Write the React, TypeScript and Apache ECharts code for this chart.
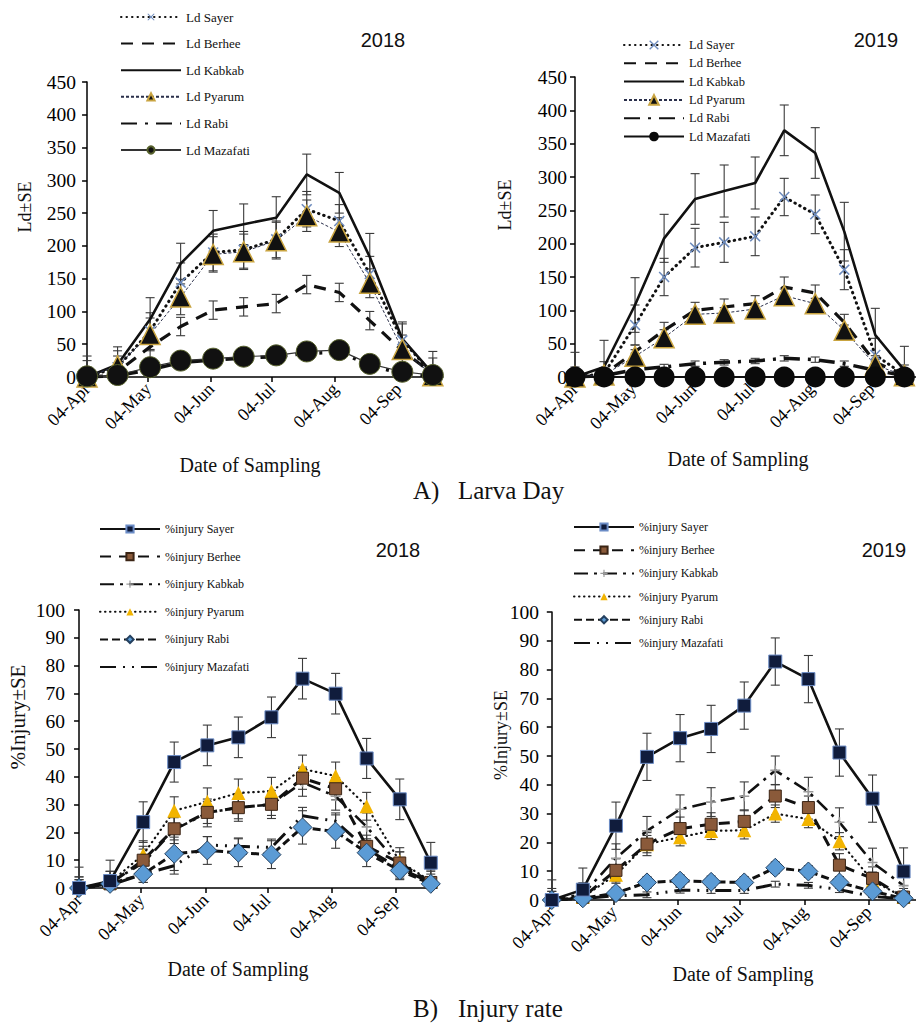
import React, { useEffect, useRef } from "react";
import * as echarts from "echarts";

// ---------- data ----------
const MONTHS = ["Jan", "Feb", "Mar", "Apr", "May", "Jun", "Jul", "Aug", "Sep", "Oct", "Nov", "Dec"];
const samplingDates = ["04-Apr", "19-Apr", "05-May", "20-May", "05-Jun", "20-Jun", "06-Jul", "21-Jul", "06-Aug", "21-Aug", "06-Sep", "21-Sep"];
const axisTickLabels = ["04-Apr", "04-May", "04-Jun", "04-Jul", "04-Aug", "04-Sep"];
const cultivars = ["Sayer", "Berhee", "Kabkab", "Pyarum", "Rabi", "Mazafati"];

// Larva day 2018
const ld2018Sayer = [0, 15, 70, 144, 190, 194, 210, 256, 238, 157, 56, 4];
const ld2018Berhee = [0, 8, 46, 77, 102, 107, 112, 141, 129, 86, 40, 5];
const ld2018Kabkab = [0, 19, 88, 173, 223, 233, 243, 309, 281, 183, 58, 5];
const ld2018Pyarum = [0, 17, 65, 122, 187, 191, 208, 246, 221, 143, 42, 2];
const ld2018Rabi = [0, 2, 11, 22, 26, 29, 31, 36, 38, 18, 5, 1];
const ld2018Mazafati = [1, 3, 15, 25, 28, 31, 33, 39, 41, 20, 8, 3];
const ld2018SayerSE = [25, 25, 28, 30, 28, 28, 28, 27, 25, 27, 25, 25];
const ld2018BerheeSE = [10, 12, 18, 14, 14, 14, 14, 14, 14, 14, 10, 8];
const ld2018KabkabSE = [32, 27, 33, 31, 31, 31, 32, 31, 31, 36, 26, 34];
const ld2018PyarumSE = [15, 15, 25, 27, 27, 27, 28, 24, 22, 22, 22, 15];
const ld2018RabiSE = [2, 3, 4, 5, 5, 5, 5, 5, 5, 5, 3, 2];
const ld2018MazafatiSE = [2, 3, 4, 5, 5, 5, 5, 5, 5, 5, 3, 2];

// Larva day 2019
const ld2019Sayer = [0, 5, 78, 150, 194, 202, 211, 270, 244, 161, 33, 3];
const ld2019Berhee = [0, 4, 38, 70, 100, 105, 110, 135, 126, 82, 22, 3];
const ld2019Kabkab = [0, 15, 108, 208, 267, 279, 291, 370, 336, 218, 63, 10];
const ld2019Pyarum = [0, 3, 31, 59, 94, 96, 102, 122, 110, 70, 18, 2];
const ld2019Rabi = [0, 2, 11, 15, 20, 22, 24, 28, 26, 20, 10, 2];
const ld2019Mazafati = [0, 0, 0, 0, 0, 0, 0, 0, 0, 0, 0, 0];
const ld2019SayerSE = [15, 18, 30, 28, 29, 30, 29, 28, 29, 30, 25, 15];
const ld2019BerheeSE = [5, 6, 10, 12, 12, 12, 12, 15, 12, 12, 10, 5];
const ld2019KabkabSE = [37, 40, 41, 36, 38, 39, 39, 38, 38, 44, 40, 36];
const ld2019PyarumSE = [5, 5, 10, 12, 8, 8, 8, 10, 8, 8, 8, 5];
const ld2019RabiSE = [3, 3, 4, 4, 4, 4, 4, 4, 4, 4, 4, 3];
const ld2019MazafatiSE = [1, 1, 1, 1, 1, 1, 1, 1, 1, 1, 1, 1];

// Injury 2018
const inj2018Sayer = [0, 2.5, 23.7, 45.3, 51.3, 54.2, 61.4, 75.3, 69.9, 46.6, 31.9, 9.1];
const inj2018Berhee = [0, 1.5, 10, 21.3, 27.2, 28.9, 30.1, 39.5, 35.7, 15, 9, 2];
const inj2018Kabkab = [0, 2, 9, 21, 27, 29, 30, 38, 33, 22, 8, 2];
const inj2018Pyarum = [0, 2, 12, 27.8, 31, 34.2, 34.8, 42.8, 40.3, 29.4, 9.5, 2.5];
const inj2018Rabi = [0, 1.5, 5, 12.3, 13.5, 12.7, 12, 21.8, 20.3, 12.7, 6.3, 1.5];
const inj2018Mazafati = [0, 1, 5, 8, 15.5, 15, 14.6, 26, 24, 14, 7, 2];
const inj2018SayerSE = [7.5, 7.5, 7.3, 7.2, 7.3, 7.3, 7.3, 7.3, 7.3, 7.2, 7.3, 7.3];
const inj2018BerheeSE = [3, 3, 4, 4, 4, 4, 4, 4, 4, 4, 4, 3];
const inj2018KabkabSE = [4, 4, 6, 5, 5, 5, 5, 5, 5, 5, 5, 4];
const inj2018PyarumSE = [4, 4, 5, 5, 5, 5, 5, 5, 5, 5, 5, 4];
const inj2018RabiSE = [3, 3, 3, 6, 5, 5, 5, 6, 6, 5, 3, 2];
const inj2018MazafatiSE = [2, 2, 3, 3, 3, 3, 3, 3, 3, 3, 3, 2];

// Injury 2019
const inj2019Sayer = [0, 3.6, 25.8, 49.7, 56.2, 59.4, 67.5, 82.8, 76.7, 51.2, 35.2, 9.9];
const inj2019Berhee = [0, 1, 10.3, 19.4, 24.8, 26.3, 27.3, 36.1, 32.1, 12.1, 7.5, 1];
const inj2019Kabkab = [0, 2, 14.5, 24, 31.5, 34, 36, 45, 37.6, 27, 13, 5];
const inj2019Pyarum = [0, 1, 8.8, 19.4, 21.8, 24, 24.2, 30, 28.1, 20.4, 6.7, 1];
const inj2019Rabi = [0, 0.6, 2.4, 6.1, 6.7, 6.3, 6.1, 11.2, 9.9, 6.1, 3, 0.6];
const inj2019Mazafati = [0, 0.5, 1.5, 1.8, 3.4, 3.3, 3.3, 5.5, 5.1, 3.6, 1.2, 0.5];
const inj2019SayerSE = [7, 7.5, 8.2, 8.2, 8.2, 8.2, 8.2, 8.2, 8.2, 8.2, 8.2, 8.2];
const inj2019BerheeSE = [3, 3, 4, 4, 4, 4, 4, 4, 4, 4, 4, 3];
const inj2019KabkabSE = [4, 4, 5, 5, 5, 5, 5, 5, 5, 5, 5, 4];
const inj2019PyarumSE = [3, 3, 3, 3, 3, 3, 3, 3, 3, 3, 3, 2];
const inj2019RabiSE = [2, 2, 2, 2, 2, 2, 2, 2, 2, 2, 2, 2];
const inj2019MazafatiSE = [1, 1, 1, 1, 1, 1, 1, 1, 1, 1, 1, 1];

// ---------- helpers ----------
const FONT_SERIF = "'Liberation Serif', 'Times New Roman', serif";
const FONT_SANS = "'Liberation Sans', Arial, sans-serif";

function toDay(label: string): number {
  const [d, m] = label.split("-");
  return Math.round((Date.UTC(2018, MONTHS.indexOf(m), Number(d)) - Date.UTC(2018, 3, 4)) / 86400000);
}
const days = samplingDates.map(toDay);
const tickDays = axisTickLabels.map(toDay);
const tickLabelOf = (v: number) => {
  const i = tickDays.indexOf(Math.round(v));
  return i >= 0 ? axisTickLabels[i] : "";
};

const X_SYMBOL = "path://M1,0L5,4L9,0L10,1L6,5L10,9L9,10L5,6L1,10L0,9L4,5L0,1Z";
const PLUS_SYMBOL = "path://M4.2,0H5.8V4.2H10V5.8H5.8V10H4.2V5.8H0V4.2H4.2Z";

const ldStyles = (year: number): any => ({
  Sayer: { line: { color: "#111", width: 3, type: [0.5, 5], cap: "round" }, symbol: X_SYMBOL, size: 11, item: { color: "#6d8bbd" } },
  Berhee: { line: { color: "#111", width: 3.2, type: [12, 9] }, symbol: "none" },
  Kabkab: { line: { color: "#111", width: 2.6, type: "solid" }, symbol: "none" },
  Pyarum: { line: { color: "#2a2f4a", width: 1, type: [3, 2] }, symbol: "triangle", size: 20, item: { color: "#111", borderColor: "#c9a440", borderWidth: 1.5 } },
  Rabi: { line: { color: "#111", width: 3.5, type: [16, 8, 3, 8] }, symbol: "none" },
  Mazafati: year === 2018
    ? { line: { color: "#333", width: 1.2, type: "solid" }, symbol: "circle", size: 21, item: { color: "#111", borderColor: "#56602c", borderWidth: 1 } }
    : { line: { color: "#111", width: 2, type: "solid" }, symbol: "circle", size: 21, item: { color: "#0a0a0a" } },
});

const injStyles: any = {
  Sayer: { line: { color: "#111", width: 2.6, type: "solid" }, symbol: "rect", size: 13, item: { color: "#101c3c", borderColor: "#6b8cc6", borderWidth: 1 } },
  Berhee: { line: { color: "#111", width: 3, type: [11, 8] }, symbol: "rect", size: 12, item: { color: "#8a5a3a", borderColor: "#3b2414", borderWidth: 1 } },
  Kabkab: { line: { color: "#111", width: 2.6, type: [14, 6, 3, 6] }, symbol: PLUS_SYMBOL, size: 10, item: { color: "#9a9a9a" } },
  Pyarum: { line: { color: "#111", width: 2.2, type: [0.5, 4.5], cap: "round" }, symbol: "triangle", size: 14, item: { color: "#f2b400" } },
  Rabi: { line: { color: "#111", width: 3, type: [8, 4] }, symbol: "diamond", size: 19, item: { color: "#5b9bd5", borderColor: "#24405f", borderWidth: 1 } },
  Mazafati: { line: { color: "#111", width: 3, type: [16, 7, 2, 7, 2, 7] }, symbol: "none" },
};

const panels = [
  {
    tag: "a", prefix: "Ld ", styles: ldStyles(2018),
    values: [ld2018Sayer, ld2018Berhee, ld2018Kabkab, ld2018Pyarum, ld2018Rabi, ld2018Mazafati],
    errors: [ld2018SayerSE, ld2018BerheeSE, ld2018KabkabSE, ld2018PyarumSE, ld2018RabiSE, ld2018MazafatiSE],
    drawOrder: ["Kabkab", "Berhee", "Rabi", "Sayer", "Pyarum", "Mazafati"],
    grid: { left: 83, top: 82, width: 360, height: 295 }, xMin: -2, xMax: 175, yMax: 450, yInterval: 50,
    legend: { left: 120, top: 10, itemGap: 12.6, fontSize: 13, itemHeight: 9 },
  },
  {
    tag: "b", prefix: "Ld ", styles: ldStyles(2019),
    values: [ld2019Sayer, ld2019Berhee, ld2019Kabkab, ld2019Pyarum, ld2019Rabi, ld2019Mazafati],
    errors: [ld2019SayerSE, ld2019BerheeSE, ld2019KabkabSE, ld2019PyarumSE, ld2019RabiSE, ld2019MazafatiSE],
    drawOrder: ["Kabkab", "Berhee", "Rabi", "Sayer", "Pyarum", "Mazafati"],
    grid: { left: 574, top: 77, width: 351, height: 300 }, xMin: -0.5, xMax: 176, yMax: 450, yInterval: 50,
    legend: { left: 623, top: 38, itemGap: 4.3, fontSize: 12.5, itemHeight: 12 },
  },
  {
    tag: "c", prefix: "%injury ", styles: injStyles,
    values: [inj2018Sayer, inj2018Berhee, inj2018Kabkab, inj2018Pyarum, inj2018Rabi, inj2018Mazafati],
    errors: [inj2018SayerSE, inj2018BerheeSE, inj2018KabkabSE, inj2018PyarumSE, inj2018RabiSE, inj2018MazafatiSE],
    drawOrder: ["Mazafati", "Kabkab", "Pyarum", "Berhee", "Rabi", "Sayer"],
    grid: { left: 72, top: 610, width: 365, height: 278 }, xMin: -3.4, xMax: 173, yMax: 100, yInterval: 10,
    legend: { left: 99, top: 522, itemGap: 13.6, fontSize: 12, itemHeight: 9 },
  },
  {
    tag: "d", prefix: "%injury ", styles: injStyles,
    values: [inj2019Sayer, inj2019Berhee, inj2019Kabkab, inj2019Pyarum, inj2019Rabi, inj2019Mazafati],
    errors: [inj2019SayerSE, inj2019BerheeSE, inj2019KabkabSE, inj2019PyarumSE, inj2019RabiSE, inj2019MazafatiSE],
    drawOrder: ["Mazafati", "Kabkab", "Pyarum", "Berhee", "Rabi", "Sayer"],
    grid: { left: 546, top: 612, width: 381, height: 288 }, xMin: -2.8, xMax: 176, yMax: 100, yInterval: 10,
    legend: { left: 573, top: 520, itemGap: 9.2, fontSize: 12, itemHeight: 9 },
  },
];

function errorBarSeries(gridIdx: number, name: string, vals: number[], se: number[], color: string) {
  return {
    type: "custom",
    name: name + " SE",
    xAxisIndex: gridIdx,
    yAxisIndex: gridIdx,
    silent: true,
    z: 2,
    encode: { x: 0, y: 1 },
    data: days.map((d, j) => [d, vals[j], se[j]]),
    renderItem: (_params: any, api: any) => {
      const x = api.value(0);
      const y = api.value(1);
      const e = api.value(2);
      const hi = api.coord([x, y + e]);
      const lo = api.coord([x, Math.max(0, y - e)]);
      const w = 4.5;
      const style = { stroke: color, lineWidth: 1.1 };
      const children: any[] = [
        { type: "line", shape: { x1: hi[0], y1: hi[1], x2: lo[0], y2: lo[1] }, style },
        { type: "line", shape: { x1: hi[0] - w, y1: hi[1], x2: hi[0] + w, y2: hi[1] }, style },
      ];
      if (y - e > 0) children.push({ type: "line", shape: { x1: lo[0] - w, y1: lo[1], x2: lo[0] + w, y2: lo[1] }, style });
      return { type: "group", children };
    },
  };
}

function buildOption(): any {
  const grid: any[] = [];
  const xAxis: any[] = [];
  const yAxis: any[] = [];
  const legend: any[] = [];
  const errSeries: any[] = [];
  const lineSeries: any[] = [];

  panels.forEach((p, gi) => {
    grid.push({ ...p.grid, containLabel: false });
    xAxis.push({
      type: "value", gridIndex: gi, min: p.xMin, max: p.xMax,
      axisLine: { show: true, onZero: false, lineStyle: { color: "#000", width: 1.5 } },
      axisTick: { show: true, customValues: tickDays, length: 5, lineStyle: { color: "#000", width: 1.5 } },
      axisLabel: { customValues: tickDays, formatter: (v: number) => tickLabelOf(v), rotate: 45, margin: 9, fontFamily: FONT_SERIF, fontSize: 18, color: "#000" },
      splitLine: { show: false },
    });
    yAxis.push({
      type: "value", gridIndex: gi, min: 0, max: p.yMax, interval: p.yInterval,
      axisLine: { show: true, lineStyle: { color: "#000", width: 1.5 } },
      axisTick: { show: true, length: 5, lineStyle: { color: "#000", width: 1.5 } },
      axisLabel: { margin: 7, fontFamily: FONT_SERIF, fontSize: 19.5, color: "#000" },
      splitLine: { show: false },
    });
    const names = cultivars.map((c) => `${p.tag}|${p.prefix}${c}`);
    legend.push({
      orient: "vertical", left: p.legend.left, top: p.legend.top, padding: 0,
      itemWidth: 60, itemHeight: p.legend.itemHeight, itemGap: p.legend.itemGap,
      selectedMode: false,
      data: names.map((n, k) => (p.styles[cultivars[k]].symbol === "none" ? { name: n, itemStyle: { opacity: 0 } } : n)),
      formatter: (n: string) => n.split("|")[1],
      textStyle: { fontFamily: FONT_SERIF, fontSize: p.legend.fontSize, color: "#111", lineHeight: 14 },
    });
    p.drawOrder.forEach((c) => {
      const k = cultivars.indexOf(c);
      const st = p.styles[c];
      errSeries.push(errorBarSeries(gi, names[k], p.values[k], p.errors[k], "#3a3a3a"));
      lineSeries.push({
        type: "line", name: names[k], xAxisIndex: gi, yAxisIndex: gi,
        data: days.map((d, j) => [d, p.values[k][j]]),
        symbol: st.symbol, symbolSize: st.size || 0, showAllSymbol: true,
        lineStyle: st.line, itemStyle: st.item || { color: st.line.color },
        z: 3,
      });
    });
  });

  const txt = (x: number, y: number, text: string, font: string, rot = 0, align = "center") => ({
    type: "text", x, y, rotation: rot, silent: true,
    style: { text, font, fill: "#111", align, verticalAlign: "middle" },
  });

  const graphic = [
    txt(383, 40, "2018", `20px ${FONT_SANS}`),
    txt(876, 40, "2019", `20px ${FONT_SANS}`),
    txt(398, 550, "2018", `20px ${FONT_SANS}`),
    txt(884, 550, "2019", `20px ${FONT_SANS}`),
    txt(25, 207, "Ld±SE", `18px ${FONT_SERIF}`, Math.PI / 2),
    txt(505, 205, "Ld±SE", `18px ${FONT_SERIF}`, Math.PI / 2),
    txt(18, 717, "%Injury±SE", `21px ${FONT_SERIF}`, Math.PI / 2),
    txt(501, 735, "%Injury±SE", `18px ${FONT_SERIF}`, Math.PI / 2),
    txt(250, 465, "Date of Sampling", `20px ${FONT_SERIF}`),
    txt(738, 459, "Date of Sampling", `20px ${FONT_SERIF}`),
    txt(238, 969, "Date of Sampling", `20px ${FONT_SERIF}`),
    txt(743, 974, "Date of Sampling", `20px ${FONT_SERIF}`),
    txt(413, 490, "A)", `25px ${FONT_SERIF}`, 0, "left"),
    txt(458, 490, "Larva Day", `25px ${FONT_SERIF}`, 0, "left"),
    txt(413, 1008, "B)", `25px ${FONT_SERIF}`, 0, "left"),
    txt(458, 1008, "Injury rate", `25px ${FONT_SERIF}`, 0, "left"),
  ];

  return {
    animation: false,
    backgroundColor: "#ffffff",
    grid, xAxis, yAxis, legend,
    series: [...errSeries, ...lineSeries],
    graphic,
  };
}

export default function App() {
  const ref = useRef<HTMLDivElement>(null);
  useEffect(() => {
    document.body.style.margin = "0";
    const chart = echarts.init(ref.current as HTMLDivElement, null, { renderer: "svg" });
    chart.setOption(buildOption());
    return () => chart.dispose();
  }, []);
  return <div ref={ref} style={{ width: 916, height: 1025 }} />;
}
